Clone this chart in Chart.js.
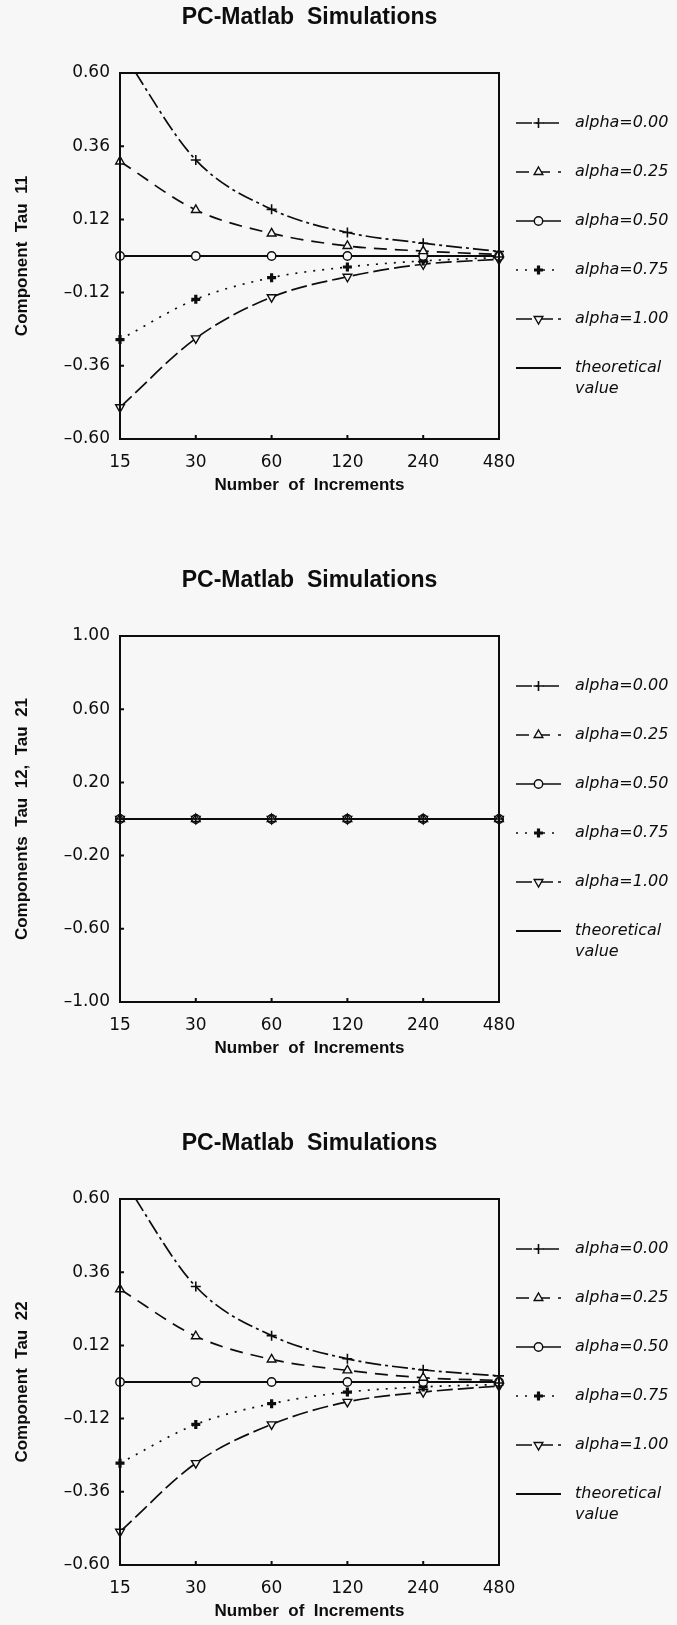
<!DOCTYPE html>
<html>
<head>
<meta charset="utf-8">
<script src="https://cdn.jsdelivr.net/npm/chart.js@4.4.0/dist/chart.umd.min.js"></script>
<style>
  html, body { margin: 0; padding: 0; background: #f7f7f7; overflow: hidden; }
  canvas { position: absolute; left: 0; }
</style>
</head>
<body>
<canvas id="tau11" width="677" height="562" style="top:0"></canvas>
<canvas id="tau12" width="677" height="562" style="top:563px"></canvas>
<canvas id="tau22" width="677" height="499" style="top:1126px"></canvas>
<script>
// x categories (log-spaced increments)
const INCREMENTS = ['15', '30', '60', '120', '240', '480'];
const SERIES_NAMES = ['alpha=0.00', 'alpha=0.25', 'alpha=0.50', 'alpha=0.75', 'alpha=1.00'];

// tick labels
const TICKS_NORMAL = [-0.60, -0.36, -0.12, 0.12, 0.36, 0.60];
const TICKS_SHEAR = [-1.00, -0.60, -0.20, 0.20, 0.60, 1.00];

// Component Tau 11
const tau11_a000 = [0.68, 0.315, 0.153, 0.077, 0.042, 0.015];
const tau11_a025 = [0.31, 0.151, 0.074, 0.033, 0.016, 0.005];
const tau11_a050 = [0, 0, 0, 0, 0, 0];
const tau11_a075 = [-0.274, -0.142, -0.071, -0.036, -0.016, -0.005];
const tau11_a100 = [-0.496, -0.27, -0.135, -0.068, -0.027, -0.011];

// Components Tau 12, Tau 21
const tau12_a000 = [0, 0, 0, 0, 0, 0];
const tau12_a025 = [0, 0, 0, 0, 0, 0];
const tau12_a050 = [0, 0, 0, 0, 0, 0];
const tau12_a075 = [0, 0, 0, 0, 0, 0];
const tau12_a100 = [0, 0, 0, 0, 0, 0];

// Component Tau 22
const tau22_a000 = [0.68, 0.313, 0.152, 0.076, 0.040, 0.02];
const tau22_a025 = [0.304, 0.150, 0.074, 0.038, 0.014, 0.005];
const tau22_a050 = [0, 0, 0, 0, 0, 0];
const tau22_a075 = [-0.266, -0.139, -0.071, -0.033, -0.016, -0.008];
const tau22_a100 = [-0.491, -0.266, -0.139, -0.065, -0.033, -0.013];

// theoretical value
const THEORY = [0, 0, 0, 0, 0, 0];

const INK = '#0d0d0d';
const PAPER = '#f7f7f7';

const SERIES_STYLES = [
    { borderDash: [16, 4, 3, 4], pointStyle: 'cross', pointRadius: 5, pointBorderWidth: 1.6 },
    { borderDash: [13, 8], pointStyle: 'triangle', pointRadius: 5, pointBorderWidth: 1.4 },
    { borderDash: [], pointStyle: 'circle', pointRadius: 4.2, pointBorderWidth: 1.4 },
    { borderDash: [2, 7], pointStyle: 'cross', pointRadius: 4.5, pointBorderWidth: 3.2 },
    { borderDash: [16, 5], pointStyle: 'triangle', pointRotation: 180, pointRadius: 5, pointBorderWidth: 1.4 }
];

// box round the plot with small inward ticks on the left and bottom
const framePlugin = {
    id: 'frame',
    afterDatasetsDraw(chart) {
        const { ctx, chartArea: a, scales: { x, y } } = chart;
        ctx.save();
        ctx.strokeStyle = INK;
        ctx.lineWidth = 2;
        ctx.setLineDash([]);
        ctx.strokeRect(a.left, a.top, a.right - a.left, a.bottom - a.top);
        ctx.beginPath();
        y.ticks.forEach(t => {
            const py = y.getPixelForValue(t.value);
            ctx.moveTo(a.left, py);
            ctx.lineTo(a.left + 4, py);
        });
        x.ticks.forEach((t, i) => {
            const px = x.getPixelForTick(i);
            ctx.moveTo(px, a.bottom);
            ctx.lineTo(px, a.bottom - 4);
        });
        ctx.stroke();
        ctx.restore();
    }
};

// legend to the right of the plot: line sample, marker, italic label
const sideLegendPlugin = {
    id: 'sideLegend',
    afterDraw(chart) {
        const { ctx, chartArea: a } = chart;
        const x0 = a.right + 17, x1 = a.right + 62, tx = a.right + 76;
        chart.data.datasets.forEach((ds, i) => {
            const yy = a.top + 50 + i * 49;
            ctx.save();
            ctx.strokeStyle = INK;
            ctx.lineWidth = ds.borderWidth;
            ctx.setLineDash(ds.borderDash || []);
            ctx.beginPath();
            ctx.moveTo(x0, yy);
            ctx.lineTo(x1, yy);
            ctx.stroke();
            ctx.setLineDash([]);
            if (ds.pointRadius) {
                ctx.fillStyle = ds.pointBackgroundColor;
                ctx.lineWidth = ds.pointBorderWidth;
                Chart.helpers.drawPoint(ctx, {
                    pointStyle: ds.pointStyle,
                    rotation: ds.pointRotation || 0,
                    radius: ds.pointRadius,
                    borderWidth: ds.pointBorderWidth
                }, (x0 + x1) / 2, yy);
            }
            ctx.fillStyle = INK;
            ctx.font = 'italic 16px "DejaVu Sans"';
            ctx.textBaseline = 'middle';
            ctx.textAlign = 'left';
            ds.label.split(' ').forEach((line, j) => ctx.fillText(line, tx, yy + j * 21));
            ctx.restore();
        });
    }
};

function buildChart(id, yTitle, yTicks, series) {
    const canvas = document.getElementById(id);
    const datasets = series.map((values, i) => ({
        label: SERIES_NAMES[i],
        data: values,
        borderColor: INK,
        borderWidth: 1.7,
        pointBorderColor: INK,
        pointBackgroundColor: PAPER,
        pointRotation: 0,
        cubicInterpolationMode: 'monotone',
        ...SERIES_STYLES[i]
    }));
    datasets.push({
        label: 'theoretical value',
        data: THEORY,
        borderColor: INK,
        borderWidth: 2,
        borderDash: [],
        pointRadius: 0
    });

    return new Chart(canvas, {
        type: 'line',
        data: { labels: INCREMENTS, datasets },
        options: {
            responsive: false,
            animation: false,
            events: [],
            layout: { padding: { left: 0, right: 178, top: 0, bottom: canvas.height - 60 - 439 } },
            plugins: {
                legend: { display: false },
                tooltip: { enabled: false },
                title: {
                    display: true,
                    fullSize: false,
                    text: 'PC-Matlab  Simulations',
                    color: INK,
                    font: { family: '"Liberation Sans", Arial, sans-serif', size: 23, weight: 'bold', lineHeight: 1.2 },
                    padding: { top: 4, bottom: 41.4 }
                }
            },
            scales: {
                x: {
                    type: 'category',
                    offset: false,
                    grid: { display: false, drawTicks: false },
                    border: { display: false },
                    ticks: {
                        color: INK,
                        padding: 13,
                        autoSkip: false,
                        maxRotation: 0,
                        font: { family: '"DejaVu Sans"', size: 17 }
                    },
                    title: {
                        display: true,
                        text: 'Number  of  Increments',
                        color: INK,
                        font: { family: '"Liberation Sans", Arial, sans-serif', size: 17, weight: 'bold', lineHeight: 1.2 },
                        padding: { top: 0, bottom: 3 }
                    },
                    afterFit: s => { s.height = 60; }
                },
                y: {
                    min: yTicks[0],
                    max: yTicks[yTicks.length - 1],
                    afterBuildTicks: s => { s.ticks = yTicks.map(v => ({ value: v })); },
                    grid: { display: false, drawTicks: false },
                    border: { display: false },
                    ticks: {
                        color: INK,
                        padding: 10,
                        font: { family: '"DejaVu Sans"', size: 17 },
                        callback: v => (v < 0 ? '\u2013' : '') + Math.abs(v).toFixed(2)
                    },
                    title: {
                        display: true,
                        text: yTitle,
                        color: INK,
                        font: { family: '"Liberation Sans", Arial, sans-serif', size: 17, weight: 'bold', lineHeight: 1.2 },
                        padding: { top: 12, bottom: 0 }
                    },
                    afterFit: s => { s.width = 120; }
                }
            }
        },
        plugins: [framePlugin, sideLegendPlugin]
    });
}

buildChart('tau11', 'Component  Tau  11', TICKS_NORMAL,
    [tau11_a000, tau11_a025, tau11_a050, tau11_a075, tau11_a100]);
buildChart('tau12', 'Components  Tau  12,  Tau  21', TICKS_SHEAR,
    [tau12_a000, tau12_a025, tau12_a050, tau12_a075, tau12_a100]);
buildChart('tau22', 'Component  Tau  22', TICKS_NORMAL,
    [tau22_a000, tau22_a025, tau22_a050, tau22_a075, tau22_a100]);
</script>
</body>
</html>
